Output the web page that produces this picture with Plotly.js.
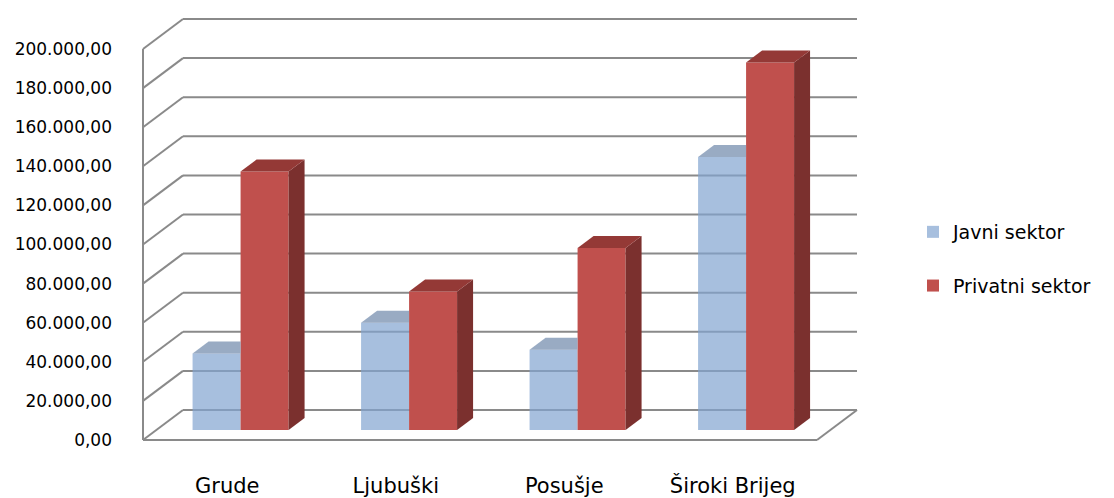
<!DOCTYPE html>
<html>
<head>
<meta charset="utf-8">
<script src="https://cdn.plot.ly/plotly-3.0.1.min.js"></script>
<style>html,body{margin:0;padding:0;background:#fff;}#chart{width:1114px;height:498px;}</style>
</head>
<body>
<div id="chart"></div>
<script>
// ---- data ----
const categories = ['Grude', 'Ljubuški', 'Posušje', 'Široki Brijeg'];
const javni = [39100, 54900, 41100, 139700];
const privatni = [132200, 70800, 93100, 188000];
const seriesNames = ['Javni sektor', 'Privatni sektor'];
const yTicks = [0, 20000, 40000, 60000, 80000, 100000, 120000, 140000, 160000, 180000, 200000];

// ---- geometry / style ----
const N = categories.length;
const PX_PER_CAT = 168.5;              // px per category on the front plane
const UPY = 200000 / 391;              // value units per px
const DX = 40 / PX_PER_CAT;            // full wall depth, x units
const DY = 30 * UPY;                   // full wall depth, y units
const F0 = 1 / 3;                      // depth of bar front plane
const FD = 0.4;                        // bar depth fraction
const W = 48 / PX_PER_CAT;             // bar width
const SDX = FD * DX, SDY = FD * DY;
const BASE = F0 * DY;
const YMAX = yTicks[yTicks.length - 1];

const gridColor = '#8a8a8a';
const blueFront = 'rgba(129,164,208,0.7)';
const blueTop = 'rgba(110,135,170,0.7)';
const redFront = '#C0504D';
const redSide = '#7B302E';
const redTop = '#943936';
const font = 'DejaVu Sans';

const centers = categories.map((c, i) => i + 0.5 + F0 * DX);

const traces = [];
traces.push({
  type: 'bar', name: seriesNames[0], legendgroup: 'a',
  x: centers, y: javni, base: javni.map(() => BASE),
  width: W, offset: -W,
  marker: {color: blueFront, line: {width: 0}},
  hoverinfo: 'skip'
});
traces.push({
  type: 'bar', name: seriesNames[1], legendgroup: 'b',
  x: centers, y: privatni, base: privatni.map(() => BASE),
  width: W, offset: 0,
  marker: {color: redFront, line: {width: 0}},
  hoverinfo: 'skip'
});

// blue top faces (clipped where the red bar front covers them)
javni.forEach((v, i) => {
  const xl = centers[i] - W, xb = centers[i], T = BASE + v;
  traces.push({
    type: 'scatter', mode: 'lines', fill: 'toself', fillcolor: blueTop,
    line: {width: 0}, showlegend: false, hoverinfo: 'skip',
    x: [xl, xl + SDX, xb, xb, xl],
    y: [T, T + SDY, T + SDY, T, T]
  });
});
// red side and top faces
privatni.forEach((v, i) => {
  const xl = centers[i], xr = centers[i] + W, T = BASE + v;
  traces.push({
    type: 'scatter', mode: 'lines', fill: 'toself', fillcolor: redSide,
    line: {width: 0}, showlegend: false, hoverinfo: 'skip',
    x: [xr, xr + SDX, xr + SDX, xr, xr],
    y: [BASE, BASE + SDY, T + SDY, T, BASE]
  });
  traces.push({
    type: 'scatter', mode: 'lines', fill: 'toself', fillcolor: redTop,
    line: {width: 0}, showlegend: false, hoverinfo: 'skip',
    x: [xl, xl + SDX, xr + SDX, xr, xl],
    y: [T, T + SDY, T + SDY, T, T]
  });
});

// walls & floor
const shapes = [];
const ln = (x0, y0, x1, y1) => ({type: 'line', xref: 'x', yref: 'y', x0, y0, x1, y1, layer: 'below',
  line: {color: gridColor, width: 2}});
yTicks.forEach(v => {
  shapes.push(ln(DX, v + DY, N + DX, v + DY));
  shapes.push(ln(0, v, DX, v + DY));
});
shapes.push(ln(0, 0, 0, YMAX));
shapes.push(ln(0, 0, N, 0));
shapes.push(ln(N, 0, N + DX, DY));

const ML = 140, MR = 254, MT = 17, MB = 55;
const layout = {
  width: 1114, height: 498,
  margin: {l: ML, r: MR, t: MT, b: MB, pad: 0},
  paper_bgcolor: '#fff', plot_bgcolor: 'rgba(0,0,0,0)',
  separators: ',.',
  showlegend: true,
  barmode: 'overlay',
  hovermode: false,
  xaxis: {
    range: [-3 / PX_PER_CAT, (1114 - MR - 143) / PX_PER_CAT],
    tickvals: categories.map((c, i) => i + 0.5), ticktext: categories,
    showgrid: false, zeroline: false, showline: false, ticks: '',
    ticklabelstandoff: 28,
    tickfont: {family: font, size: 21, color: '#000'},
    fixedrange: true
  },
  yaxis: {
    range: [-3 * UPY, (440 - MT) * UPY],
    tickvals: yTicks, tickformat: ',.2f',
    showgrid: false, zeroline: false, showline: false, ticks: '',
    ticklabelstandoff: 27,
    tickfont: {family: font, size: 17, color: '#000'},
    fixedrange: true
  },
  legend: {
    x: (913 - ML) / (1114 - ML - MR), xanchor: 'left',
    y: (443 - 213) / (498 - MT - MB), yanchor: 'top',
    font: {family: font, size: 19, color: '#000'},
    tracegroupgap: 26, bgcolor: 'rgba(0,0,0,0)'
  },
  shapes: shapes
};

Plotly.newPlot('chart', traces, layout, {displayModeBar: false, staticPlot: true});
</script>
</body>
</html>
